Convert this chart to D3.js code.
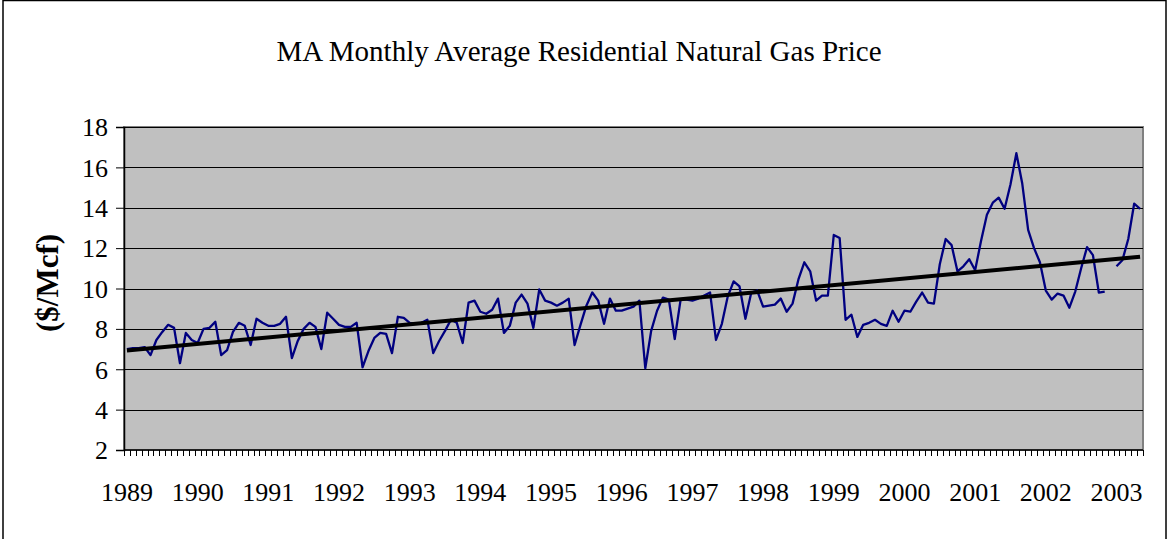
<!DOCTYPE html>
<html><head><meta charset="utf-8">
<script src="https://cdn.jsdelivr.net/npm/d3@7"></script>
<style>body{margin:0;background:#fff;} svg{display:block;}</style>
</head><body>
<svg id="chart" width="1170" height="539"></svg>
<script>
const title = "MA Monthly Average Residential Natural Gas Price";
const yAxisTitle = "($/Mcf)";
const years = ["1989","1990","1991","1992","1993","1994","1995","1996","1997","1998","1999","2000","2001","2002","2003"];
const monthsPerYear = 12;
// Monthly prices Jan 1989 – May 2003 ($/Mcf); null = missing month
const prices = [
 7.0,7.05,7.05,7.1,6.7,7.45,7.85,8.2,8.05,6.3,7.8,7.45,
 7.3,8.0,8.05,8.35,6.7,6.95,7.85,8.3,8.15,7.2,8.5,8.3,
 8.15,8.15,8.25,8.6,6.55,7.4,8.0,8.3,8.1,7.0,8.8,8.5,
 8.2,8.1,8.1,8.3,6.1,6.9,7.55,7.8,7.75,6.8,8.6,8.55,
 8.3,8.25,8.3,8.45,6.8,7.4,7.9,8.45,8.3,7.3,9.3,9.4,
 8.85,8.75,8.95,9.5,7.8,8.15,9.3,9.7,9.25,8.05,9.95,9.4,
 9.3,9.15,9.3,9.5,7.2,8.2,9.15,9.8,9.4,8.25,9.5,8.9,
 8.9,9.0,9.1,9.4,6.05,7.9,8.9,9.55,9.45,7.5,9.45,9.45,
 9.4,9.5,9.65,9.8,7.45,8.25,9.6,10.35,10.1,8.5,9.8,9.9,
 9.1,9.15,9.2,9.5,8.85,9.25,10.45,11.3,10.85,9.4,9.65,9.65,
 12.65,12.5,8.45,8.7,7.6,8.2,8.3,8.45,8.25,8.15,8.9,8.35,
 8.9,8.85,9.35,9.8,9.3,9.25,11.2,12.45,12.15,10.85,11.1,11.45,
 10.9,12.35,13.65,14.25,14.5,13.95,15.15,16.7,15.2,12.9,12.0,11.3,
 9.9,9.45,9.75,9.65,9.05,9.85,11.0,12.05,11.65,9.8,9.85,null,
 11.1,11.4,12.45,14.2,13.95
];
// Linear trend line values at first and last month
const trendValues = [6.93, 11.57];
const yTicks = [2,4,6,8,10,12,14,16,18];

const FONT = "Liberation Serif, Times New Roman, serif";
const svg = d3.select("#chart");
const L = 124, R = 1143, T = 127, B = 450;
const idx = d3.range(prices.length);
const x = d3.scaleBand().domain(idx).range([L, R]).padding(0);
const y = d3.scaleLinear().domain([2, 18]).range([B, T]);
const cx = i => x(i) + x.bandwidth() / 2;

// outer frame
svg.append("rect").attr("x", 3).attr("y", 0.5).attr("width", 1163).attr("height", 545)
  .attr("fill", "#fff").attr("stroke", "#000").attr("stroke-width", 1.5);

// plot area
svg.append("rect").attr("x", L).attr("y", T).attr("width", R - L).attr("height", B - T)
  .attr("fill", "#C0C0C0").attr("stroke", "#808080").attr("stroke-width", 2);

// gridlines
svg.append("g").selectAll("line").data(yTicks.filter(d => d > 2 && d < 18)).join("line")
  .attr("x1", L).attr("x2", R).attr("y1", d => Math.round(y(d)) + 0.5).attr("y2", d => Math.round(y(d)) + 0.5)
  .attr("stroke", "#000").attr("stroke-width", 1);
svg.append("line").attr("x1", L).attr("x2", R).attr("y1", T + 0.5).attr("y2", T + 0.5).attr("stroke", "#000");

// y axis
const yAxis = d3.axisLeft(y).tickValues(yTicks).tickSize(8).tickPadding(8);
const gy = svg.append("g").attr("transform", `translate(${L},0)`).call(yAxis);
gy.select(".domain").attr("stroke", "#000").attr("stroke-width", 1.5);
gy.selectAll(".tick line").attr("stroke", "#000");
gy.selectAll(".tick text").attr("font-family", FONT)
  .attr("font-size", 26).attr("fill", "#000").attr("dy", "0.34em");

// x axis: month ticks at category boundaries
const gx = svg.append("g");
gx.append("line").attr("x1", L).attr("x2", R).attr("y1", B).attr("y2", B).attr("stroke", "#000").attr("stroke-width", 1.5);
gx.selectAll("line.mt").data(d3.range(prices.length + 1)).join("line").attr("class", "mt")
  .attr("x1", i => Math.round(L + i * x.step()) + 0.5).attr("x2", i => Math.round(L + i * x.step()) + 0.5)
  .attr("y1", B).attr("y2", B + 6).attr("stroke", "#000").attr("stroke-width", 1);
gx.selectAll("text").data(years).join("text")
  .attr("x", (d, k) => cx(k * monthsPerYear)).attr("y", 501)
  .attr("text-anchor", "middle").attr("font-family", FONT)
  .attr("font-size", 26).attr("fill", "#000").text(d => d);

// data line
const line = d3.line().defined(d => d[1] != null).x(d => cx(d[0])).y(d => y(d[1]));
svg.append("path").datum(prices.map((v, i) => [i, v])).attr("d", line)
  .attr("fill", "none").attr("stroke", "#000080").attr("stroke-width", 2.3).attr("stroke-linejoin", "round");

// trend line
svg.append("path").datum([[0, trendValues[0]], [prices.length - 1, trendValues[1]]]).attr("d", line)
  .attr("fill", "none").attr("stroke", "#000").attr("stroke-width", 4);

// titles
svg.append("text").attr("x", 579).attr("y", 61).attr("text-anchor", "middle")
  .attr("font-family", FONT).attr("font-size", 29).attr("fill", "#000").text(title);
svg.append("text").attr("transform", "translate(58,283) rotate(-90)").attr("text-anchor", "middle")
  .attr("font-family", FONT).attr("font-size", 31).attr("font-weight", "bold")
  .attr("fill", "#000").text(yAxisTitle);
</script>
</body></html>
